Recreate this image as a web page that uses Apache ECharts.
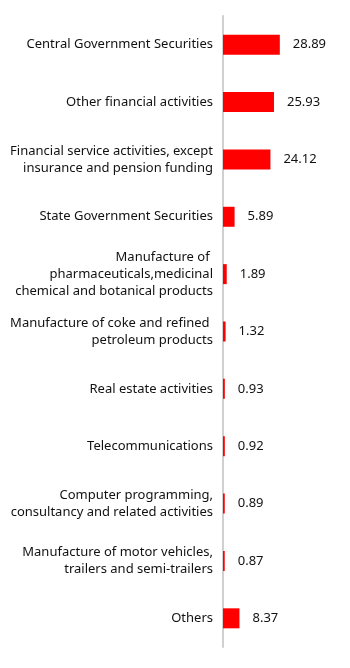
<!DOCTYPE html>
<html>
<head>
<meta charset="utf-8">
<script src="https://cdn.jsdelivr.net/npm/echarts@6/dist/echarts.min.js"></script>
<style>
  html, body { margin: 0; padding: 0; background: #fff; }
  #chart { width: 350px; height: 668px; }
</style>
</head>
<body>
<div id="chart"></div>
<script>
const categories = [
  'Central Government Securities',
  'Other financial activities',
  'Financial service activities, except\ninsurance and pension funding',
  'State Government Securities',
  'Manufacture of \npharmaceuticals,medicinal\nchemical and botanical products',
  'Manufacture of coke and refined \npetroleum products',
  'Real estate activities',
  'Telecommunications',
  'Computer programming,\nconsultancy and related activities',
  'Manufacture of motor vehicles,\ntrailers and semi-trailers',
  'Others'
];
const values = [28.89, 25.93, 24.12, 5.89, 1.89, 1.32, 0.93, 0.92, 0.89, 0.87, 8.37];

const chart = echarts.init(document.getElementById('chart'));
chart.setOption({
  animation: false,
  grid: { left: 223, right: 68, top: 16, bottom: 21 },
  xAxis: {
    type: 'value',
    min: 0,
    max: 30,
    show: false
  },
  yAxis: {
    type: 'category',
    inverse: true,
    data: categories,
    axisTick: { show: false },
    axisLine: { lineStyle: { color: '#d0d0d0', width: 2 } },
    axisLabel: {
      margin: 10,
      color: '#111',
      fontSize: 13,
      fontFamily: 'Noto Sans',
      lineHeight: 17,
      align: 'right'
    }
  },
  series: [{
    type: 'bar',
    data: values,
    barWidth: 20,
    itemStyle: { color: '#ff0000' },
    label: {
      show: true,
      position: 'right',
      distance: 13,
      color: '#111',
      fontSize: 13,
      fontFamily: 'Noto Sans'
    }
  }]
});
</script>
</body>
</html>
